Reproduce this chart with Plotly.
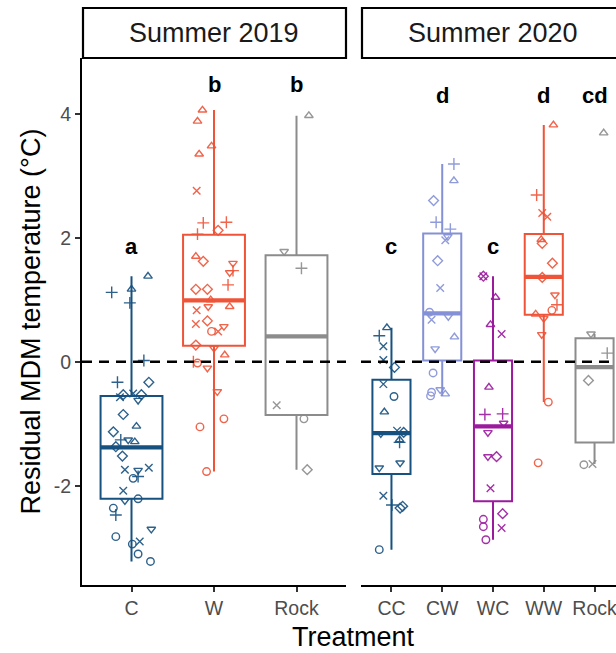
import plotly.graph_objects as go

FONT = "Liberation Sans, Arial, sans-serif"
W_PX, H_PX = 616, 653

# ---------------------------------------------------------------------------
# Residual MDM temperature (°C) by treatment.
# Symbol codes: o circle, ^ triangle up, + plus, x cross, d diamond, v triangle down
# ---------------------------------------------------------------------------

# Summer 2019
C_temp = [1.38, 1.12, 1.17, 0.95, 0.02, -0.33, -0.33, -0.53, -0.57, -0.51, -0.53, -0.62,
          -0.85, -1.04, -1.13, -1.26, -1.26, -1.29, -1.37, -1.52, -1.74, -1.75, -1.71,
          -1.88, -1.85, -2.08, -2.24, -2.21, -2.36, -2.47, -2.70, -2.82, -2.94, -2.90,
          -3.10, -3.22]
C_sym = ["^", "+", "^", "+", "+", "+", "d", "d", "x", "x", "d", "v",
         "d", "^", "d", "+", "v", "^", "d", "d", "x", "v", "x",
         "o", "+", "x", "v", "o", "o", "+", "v", "o", "o", "x",
         "o", "o"]
C_jit = [0.20, -0.24, 0.00, -0.02, 0.15, -0.17, 0.21, -0.10, -0.14, 0.02, 0.12, 0.08,
         -0.10, 0.06, -0.22, -0.13, -0.04, 0.04, -0.19, -0.11, -0.08, 0.08, 0.21,
         0.02, 0.08, -0.10, -0.08, 0.08, -0.22, -0.19, 0.24, -0.19, 0.01, 0.10,
         0.08, 0.23]

W_temp = [4.06, 3.88, 3.48, 3.35, 2.76, 2.24, 2.25, 2.12, 2.06, 1.70, 1.62, 1.59,
          1.44, 1.47, 1.24, 1.17, 1.17, 1.00, 0.89, 0.89, 0.83, 0.61, 0.66, 0.49,
          0.49, 0.57, 0.27, 0.22, 0.11, 0.00, -0.02, -0.10, -0.48, -0.92, -1.05, -1.77]
W_sym = ["^", "^", "^", "^", "x", "+", "+", "d", "+", "^", "d", "v",
         "v", "+", "+", "d", "d", "^", "v", "^", "x", "x", "d", "o",
         "x", "v", "d", "v", "^", "+", "o", "v", "v", "o", "o", "o"]
W_jit = [-0.14, -0.20, -0.03, -0.18, -0.21, -0.13, 0.15, 0.05, -0.20, -0.22, -0.13, 0.23,
         0.19, 0.23, 0.17, -0.22, -0.08, -0.04, -0.07, 0.19, -0.21, -0.22, -0.08, -0.03,
         0.05, 0.12, -0.22, 0.00, 0.13, -0.25, -0.20, -0.08, 0.04, 0.12, -0.17, -0.09]

R19_temp = [3.97, 1.78, 1.51, -0.70, -0.92, -1.74]
R19_sym = ["^", "v", "+", "x", "o", "d"]
R19_jit = [0.15, -0.15, 0.06, -0.24, 0.09, 0.13]

# Summer 2020
CC_temp = [0.55, 0.42, 0.25, 0.03, -0.09, -0.36, -0.56, -0.81, -1.16, -1.11, -1.14,
           -1.26, -1.30, -1.71, -1.63, -2.16, -2.31, -2.36, -2.33, -3.03]
CC_sym = ["^", "+", "x", "x", "d", "x", "o", "^", "v", "x", "d",
          "^", "+", "v", "v", "x", "+", "d", "d", "o"]
CC_jit = [-0.09, -0.24, -0.16, -0.16, 0.06, -0.16, 0.05, -0.14, -0.21, 0.11, 0.24,
          0.16, 0.16, -0.24, 0.17, -0.16, 0.01, 0.17, 0.22, -0.24]

CW_temp = [3.19, 2.92, 2.60, 2.25, 2.14, 2.02, 1.96, 1.63, 1.19, 0.80, 0.68, 0.73,
           0.40, 0.21, -0.18, -0.55, -0.49, -0.45, -0.52]
CW_sym = ["+", "^", "d", "+", "+", "v", "x", "d", "x", "o", "x", "v",
          "^", "v", "o", "o", "o", "v", "^"]
CW_jit = [0.23, 0.23, -0.17, -0.12, 0.16, 0.11, 0.06, -0.09, -0.04, -0.25, -0.21, 0.12,
          0.24, -0.14, -0.18, -0.23, -0.21, -0.04, 0.06]

WC_temp = [1.38, 1.38, 1.04, 0.60, 0.45, -0.41, -0.85, -0.84, -0.99, -1.14, -1.53,
           -1.53, -2.04, -2.54, -2.66, -2.45, -2.68, -2.87]
WC_sym = ["d", "x", "^", "^", "x", "^", "+", "+", "v", "v", "v",
          "d", "x", "o", "o", "d", "x", "o"]
WC_jit = [-0.19, -0.19, 0.05, -0.05, 0.17, -0.08, -0.16, 0.19, 0.21, -0.10, -0.10,
          0.07, -0.05, -0.19, -0.19, 0.19, 0.17, -0.14]

WW_temp = [3.82, 2.69, 2.40, 2.34, 1.97, 1.91, 1.59, 1.36, 1.08, 0.92, 0.83, 0.77,
           0.70, 0.44, -0.65, -1.63]
WW_sym = ["^", "+", "x", "x", "^", "d", "d", "d", "v", "+", "o", "^",
          "v", "v", "o", "o"]
WW_jit = [0.19, -0.14, -0.03, 0.07, -0.05, -0.03, 0.17, -0.03, 0.22, 0.26, 0.16, -0.16,
          0.00, -0.04, 0.09, -0.11]

R20_temp = [3.69, 0.45, 0.14, -0.30, -1.66, -1.65]
R20_sym = ["^", "v", "+", "d", "o", "x"]
R20_jit = [0.18, -0.07, 0.25, -0.12, -0.21, -0.04]

# Box summaries (lower whisker, Q1, median, Q3, upper whisker)
box19_groups = ["C", "W", "Rock"]
box19_lo = [-3.22, -1.77, -1.74]
box19_q1 = [-2.21, 0.26, -0.86]
box19_med = [-1.38, 0.99, 0.41]
box19_q3 = [-0.55, 2.05, 1.72]
box19_hi = [1.38, 4.06, 3.97]

box20_groups = ["CC", "CW", "WC", "WW", "Rock"]
box20_lo = [-3.03, -0.55, -2.87, -0.65, -1.65]
box20_q1 = [-1.81, 0.02, -2.25, 0.76, -1.30]
box20_med = [-1.15, 0.78, -1.04, 1.37, -0.085]
box20_q3 = [-0.29, 2.07, 0.02, 2.06, 0.38]
box20_hi = [0.55, 3.19, 1.38, 3.82, 0.45]

# Compact-letter display and the height at which each letter is printed
letters19 = ["a", "b", "b"]
letters19_y = [1.86, 4.47, 4.47]
letters20 = ["c", "d", "c", "d", "cd"]
letters20_y = [1.86, 4.29, 1.86, 4.29, 4.29]

panels = ["Summer 2019", "Summer 2020"]

BLUE, RED, GREY, LILAC, PURPLE = "#17517F", "#EF5438", "#8C8C8C", "#8591D6", "#9B1A9E"
colors19 = [BLUE, RED, GREY]
colors20 = [BLUE, LILAC, PURPLE, RED, GREY]

points19 = [(C_temp, C_sym, C_jit), (W_temp, W_sym, W_jit), (R19_temp, R19_sym, R19_jit)]
points20 = [(CC_temp, CC_sym, CC_jit), (CW_temp, CW_sym, CW_jit), (WC_temp, WC_sym, WC_jit),
            (WW_temp, WW_sym, WW_jit), (R20_temp, R20_sym, R20_jit)]

SYMBOLS = {"o": "circle-open", "^": "triangle-up-open", "+": "cross-thin-open",
           "x": "x-thin-open", "d": "diamond-open", "v": "triangle-down-open"}
SYM_SIZE = {"o": 7.5, "^": 7.5, "+": 8.5, "x": 7.5, "d": 7.5, "v": 7.5}

BOX_W = 0.75

fig = go.Figure()


def add_panel(xa, groups, lo, q1, med, q3, hi, colors, points):
    for i, g in enumerate(groups):
        pos = i + 1
        col = colors[i]
        fig.add_trace(go.Box(
            x=[pos], lowerfence=[lo[i]], q1=[q1[i]], median=[med[i]], q3=[q3[i]],
            upperfence=[hi[i]], width=BOX_W, whiskerwidth=0, boxpoints=False,
            line=dict(color=col, width=2), fillcolor="rgba(255,255,255,0)",
            xaxis=xa, yaxis="y", hoverinfo="skip", showlegend=False))
        # thicker median bar
        fig.add_trace(go.Scatter(
            x=[pos - BOX_W / 2, pos + BOX_W / 2], y=[med[i], med[i]], mode="lines",
            line=dict(color=col, width=4.2), xaxis=xa, yaxis="y",
            hoverinfo="skip", showlegend=False))
        vals, syms, jit = points[i]
        for code in ["o", "^", "+", "x", "d", "v"]:
            idx = [k for k, s in enumerate(syms) if s == code]
            if not idx:
                continue
            fig.add_trace(go.Scatter(
                x=[pos + jit[k] for k in idx], y=[vals[k] for k in idx], mode="markers",
                marker=dict(symbol=SYMBOLS[code], size=SYM_SIZE[code], color=col,
                            line=dict(width=1.4, color=col)),
                opacity=0.9, xaxis=xa, yaxis="y", hoverinfo="skip", showlegend=False))


add_panel("x", box19_groups, box19_lo, box19_q1, box19_med, box19_q3, box19_hi,
          colors19, points19)
add_panel("x2", box20_groups, box20_lo, box20_q1, box20_med, box20_q3, box20_hi,
          colors20, points20)

# panel geometry (pixels): both facets have the same physical width,
# the second one runs past the right edge of the page
L1, R1 = 82, 346
PANEL_W = R1 - L1
L2 = 361
R2_full = L2 + PANEL_W
unit2 = PANEL_W / (len(box20_groups) + 0.2)
TOP, BOT = 58, 585
STRIP_TOP = 8

tick_font = dict(family=FONT, size=19.5, color="#4D4D4D")
common_x = dict(showgrid=False, zeroline=False, showline=True, linecolor="black",
                linewidth=2, ticks="outside", ticklen=5, tickwidth=2,
                tickcolor="#333333", tickfont=tick_font, fixedrange=True,
                ticklabeloverflow="allow")

fig.update_layout(
    width=W_PX, height=H_PX, margin=dict(l=0, r=0, t=0, b=0),
    paper_bgcolor="white", plot_bgcolor="rgba(0,0,0,0)",
    font=dict(family=FONT, color="black"), showlegend=False,
    xaxis=dict(domain=[L1 / W_PX, R1 / W_PX], range=[0.4, len(box19_groups) + 0.6],
               tickvals=[1, 2, 3], ticktext=box19_groups, anchor="y", **common_x),
    xaxis2=dict(domain=[L2 / W_PX, 1.0], range=[0.4, 0.4 + (W_PX - L2) / unit2],
                tickvals=[1, 2, 3, 4, 5], ticktext=box20_groups, anchor="y", **common_x),
    yaxis=dict(domain=[(H_PX - BOT) / H_PX, (H_PX - TOP) / H_PX], range=[-3.6, 4.9],
               tickvals=[-2, 0, 2, 4], ticktext=["-2", "0", "2", "4"],
               showgrid=False, zeroline=False, showline=True, linecolor="black",
               linewidth=2, ticks="outside", ticklen=5, tickwidth=2,
               tickcolor="#333333", tickfont=tick_font, anchor="x", fixedrange=True),
)

# zero reference line in each panel
for xa in ["x", "x2"]:
    fig.add_shape(type="line", xref=f"{xa} domain", yref="y", x0=0, x1=1, y0=0, y1=0,
                  line=dict(color="black", width=2.5, dash="10px,7px"), layer="above")

# facet strips
strip_y0 = (H_PX - TOP) / H_PX
strip_y1 = (H_PX - STRIP_TOP) / H_PX
for (x0, x1), title in zip([(L1, R1), (L2, R2_full)], panels):
    fig.add_shape(type="rect", xref="paper", yref="paper", x0=(x0 + 1) / W_PX,
                  x1=x1 / W_PX, y0=strip_y0, y1=strip_y1,
                  line=dict(color="black", width=2.2), fillcolor="white")
    fig.add_annotation(xref="paper", yref="paper", x=(x0 + x1) / 2 / W_PX,
                       y=(strip_y0 + strip_y1) / 2, text=title, showarrow=False,
                       font=dict(family=FONT, size=27, color="#1A1A1A"),
                       xanchor="center", yanchor="middle")

# significance letters
for xa, labs, ys in [("x", letters19, letters19_y), ("x2", letters20, letters20_y)]:
    for i, (lab, yv) in enumerate(zip(labs, ys)):
        fig.add_annotation(xref=xa, yref="y", x=i + 1, y=yv, text=f"<b>{lab}</b>",
                           showarrow=False, font=dict(family=FONT, size=22, color="black"),
                           xanchor="center", yanchor="middle")

# axis titles
fig.add_annotation(xref="paper", yref="paper", x=30 / W_PX,
                   y=1 - (TOP + BOT) / 2 / H_PX, text="Residual MDM temperature (°C)",
                   textangle=-90, showarrow=False,
                   font=dict(family=FONT, size=27, color="black"),
                   xanchor="center", yanchor="middle")
fig.add_annotation(xref="paper", yref="paper", x=(L1 + R2_full) / 2 / W_PX,
                   y=1 - 637 / H_PX, text="Treatment", showarrow=False,
                   font=dict(family=FONT, size=27, color="black"),
                   xanchor="center", yanchor="middle")

fig.write_html("out.html")
